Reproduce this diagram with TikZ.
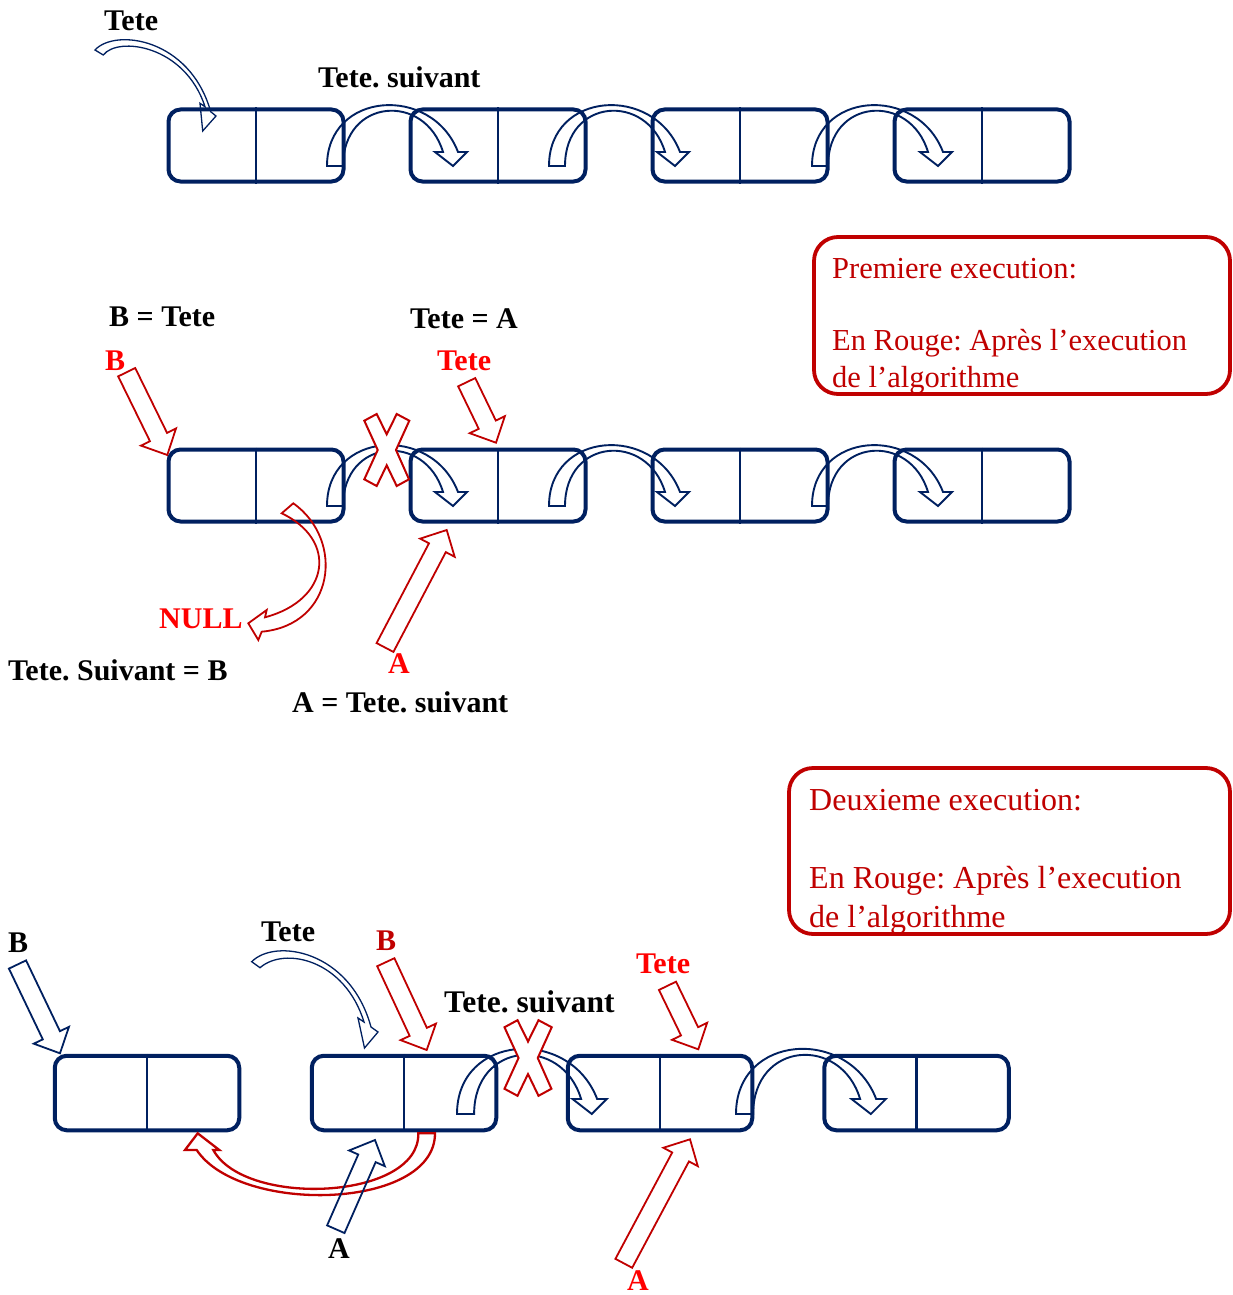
\documentclass[tikz,border=0pt]{standalone}
\usepackage{fontspec}
\setmainfont{Liberation Serif}
\usetikzlibrary{calc}
\definecolor{navy}{RGB}{0,32,96}
\definecolor{dred}{RGB}{192,0,0}
\definecolor{bred}{RGB}{255,0,0}
\frenchspacing
\tikzset{
  cell/.style={draw=navy, line width=4pt, rounded corners=12pt, inner sep=0pt,
               minimum width=175pt, minimum height=72pt},
  bigcell/.style={cell, minimum width=184.5pt, minimum height=74.5pt},
  divider/.style={draw=navy, line width=2.2pt},
  linkstyle/.style={draw=navy, line width=1.9pt},
  thinarrow/.style={draw=navy, line width=1.3pt},
  redarrow/.style={draw=dred, line width=1.8pt},
  bluearrow/.style={draw=navy, line width=1.8pt},
  crossstyle/.style={draw=dred, fill=white, line width=2pt},
  note/.style={draw=dred, line width=3.8pt, rounded corners=24pt},
  lbl/.style={inner sep=0pt, anchor=base west, font=\fontsize{30}{36}\selectfont\bfseries},
  notetext/.style={inner sep=0pt, anchor=base west, text=dred, font=\fontsize{30.5}{36}\selectfont},
}
% curved "next" pointer, origin at the outer foot of the arch
\newcommand\nextptr[2][]{%
  \draw[linkstyle, shift={#2}, #1] (0,0) .. controls (0,-75) and (105,-82) .. (131,-14)
    -- (140,-14) -- (126,0) -- (108,-14) -- (116,-14)
    .. controls (98,-74) and (16,-68) .. (16,0) -- cycle;}
% red cross drawn over a broken link
\newcommand\crossmark[2][]{%
  \draw[crossstyle, shift={#2}, #1] (-22.4,-29.3) -- (-10,-36) -- (0,-15.7) -- (10,-36)
    -- (22.6,-29.3) -- (9.3,0) -- (22.3,29.3) -- (10,36) -- (0,15.3) -- (-10,36)
    -- (-22.4,29.3) -- (-9,0) -- cycle;}
% straight block arrow from tail coordinate #2 to tip coordinate #3
\newcommand\blockarrow[3]{%
  \coordinate (ba-h) at ($(#3)!20pt!(#2)$);
  \draw[#1] ($(#2)!9.5pt!90:(#3)$) -- ($(ba-h)!9.5pt!90:(#3)$) -- ($(ba-h)!19.5pt!90:(#3)$)
    -- (#3) -- ($(ba-h)!19.5pt!-90:(#3)$) -- ($(ba-h)!9.5pt!-90:(#3)$)
    -- ($(#2)!9.5pt!-90:(#3)$) -- cycle;}
\begin{document}
\begin{tikzpicture}[x=1pt, y=-1pt]
\useasboundingbox[fill=white] (0,0) rectangle (1233,1295);

% ---------- first list ----------
\foreach \cx [count=\i] in {256,498,740,982} {
  \node[cell] (a\i) at (\cx,145.5) {};
  \draw[divider] (a\i.north) -- (a\i.south);
}
\nextptr{(327,166)}
\nextptr{(549,166)}
\nextptr{(812,166)}
\node[lbl] (ta) at (104,31) {Tete};
\node[lbl] (tsa) at (318,88) {Tete. suivant};
\draw[thinarrow] (95,50) .. controls (115,28) and (190,38) .. (210.7,111.7)
  -- (216,116) -- (202.7,131) -- (200,103.3) -- (205,106.7)
  .. controls (185,45) and (118,36) .. (103.3,55) -- cycle;

% ---------- first execution ----------
\foreach \cx [count=\i] in {256,498,740,982} {
  \node[cell] (b\i) at (\cx,485.5) {};
  \draw[divider] (b\i.north) -- (b\i.south);
}
\nextptr{(327,506)}
\nextptr{(549,506)}
\nextptr{(812,506)}
\crossmark{(386.7,450)}

\draw[note] (814,237) rectangle (1230,394);
\node[notetext] (n1a) at (832,278) {Premiere execution:};
\node[notetext] (n1b) at (832,350) {En Rouge: Après l’execution};
\node[notetext] (n1c) at (832,387) {de l’algorithme};

\node[lbl] (bt) at (109,326) {B = Tete};
\node[lbl] (tA) at (410,328) {Tete = A};
\node[lbl, text=bred] (rb1) at (105,370) {B};
\node[lbl, text=bred] (rt1) at (437,370) {Tete};
\node[lbl, text=bred] (null) at (159,628) {NULL};
\node[lbl] (tsb) at (8,680) {Tete. Suivant = B};
\node[lbl, text=bred] (ra1) at (388,673) {A};
\node[lbl] (ats) at (292,712) {A = Tete. suivant};

\coordinate (rbT) at (126.7,372.2); \coordinate (rbH) at (167.3,455);
\coordinate (rtT) at (466.7,382.2); \coordinate (rtH) at (496,442.7);
\coordinate (raT) at (385,647.5);   \coordinate (raH) at (446.7,530);
\blockarrow{redarrow}{rbT}{rbH}
\blockarrow{redarrow}{rtT}{rtH}
\blockarrow{redarrow}{raT}{raH}
% b1's next field now points to NULL
\draw[redarrow] (281.7,513.3) -- (293.3,503.3) .. controls (345,540) and (335,625) .. (261.7,631.7)
  -- (258.3,640) -- (248.3,623.3) -- (266.7,610) -- (265,617.3)
  .. controls (330,600) and (338,540) .. (281.7,513.3) -- cycle;

% ---------- second execution ----------
\foreach \cx [count=\i] in {147,404,660,916.5} {
  \node[bigcell] (c\i) at (\cx,1093) {};
  \draw[divider] (c\i.north) -- (c\i.south);
}
\nextptr[scale=1.07]{(457,1114)}
\nextptr[scale=1.07]{(736,1114)}
\crossmark[scale=1.05]{(528,1058)}

\draw[note] (789,768) rectangle (1230,934);
\node[notetext, font=\fontsize{32}{38}\selectfont] (n2a) at (809,810) {Deuxieme execution:};
\node[notetext, font=\fontsize{32}{38}\selectfont] (n2b) at (809,888) {En Rouge: Après l’execution};
\node[notetext, font=\fontsize{32}{38}\selectfont] (n2c) at (809,927) {de l’algorithme};

\node[lbl] (lb) at (8,952) {B};
\node[lbl] (lt) at (261,941) {Tete};
\node[lbl, text=dred] (rb2) at (376,950) {B};
\node[lbl, font=\fontsize{31.5}{38}\selectfont\bfseries] (tsc) at (444,1012) {Tete. suivant};
\node[lbl, text=bred] (rt2) at (636,973) {Tete};
\node[lbl] (la) at (328,1258) {A};
\node[lbl, text=bred] (ra2) at (627,1290) {A};

\draw[thinarrow] (251.7,961.7) .. controls (275,938) and (350,950) .. (371,1027)
  -- (378,1032) -- (364.5,1048) -- (358,1018) -- (364,1022)
  .. controls (345,960) and (285,946) .. (260,967.7) -- cycle;

% c2's next field now points back to c1
\draw[redarrow, line width=2.3pt] (418.3,1133.3) -- (435,1133.3)
  .. controls (435,1210) and (240,1215) .. (196.7,1150)
  -- (185,1150) -- (197.7,1133.3) -- (219.3,1150) -- (213.3,1150)
  .. controls (245,1208) and (420,1200) .. (418.3,1133.3) -- cycle;

\coordinate (bT) at (17.5,964.5);   \coordinate (bH) at (60,1053.3);
\coordinate (b2T) at (385.8,962.2); \coordinate (b2H) at (426.7,1050);
\coordinate (aT) at (335.8,1229.2); \coordinate (aH) at (375,1140);
\coordinate (t2T) at (667.5,985.8); \coordinate (t2H) at (698.3,1049.3);
\coordinate (a2T) at (623.8,1263.3); \coordinate (a2H) at (690,1139.3);
\blockarrow{bluearrow}{bT}{bH}
\blockarrow{redarrow}{b2T}{b2H}
\blockarrow{bluearrow}{aT}{aH}
\blockarrow{redarrow}{t2T}{t2H}
\blockarrow{redarrow}{a2T}{a2H}
\end{tikzpicture}
\end{document}
